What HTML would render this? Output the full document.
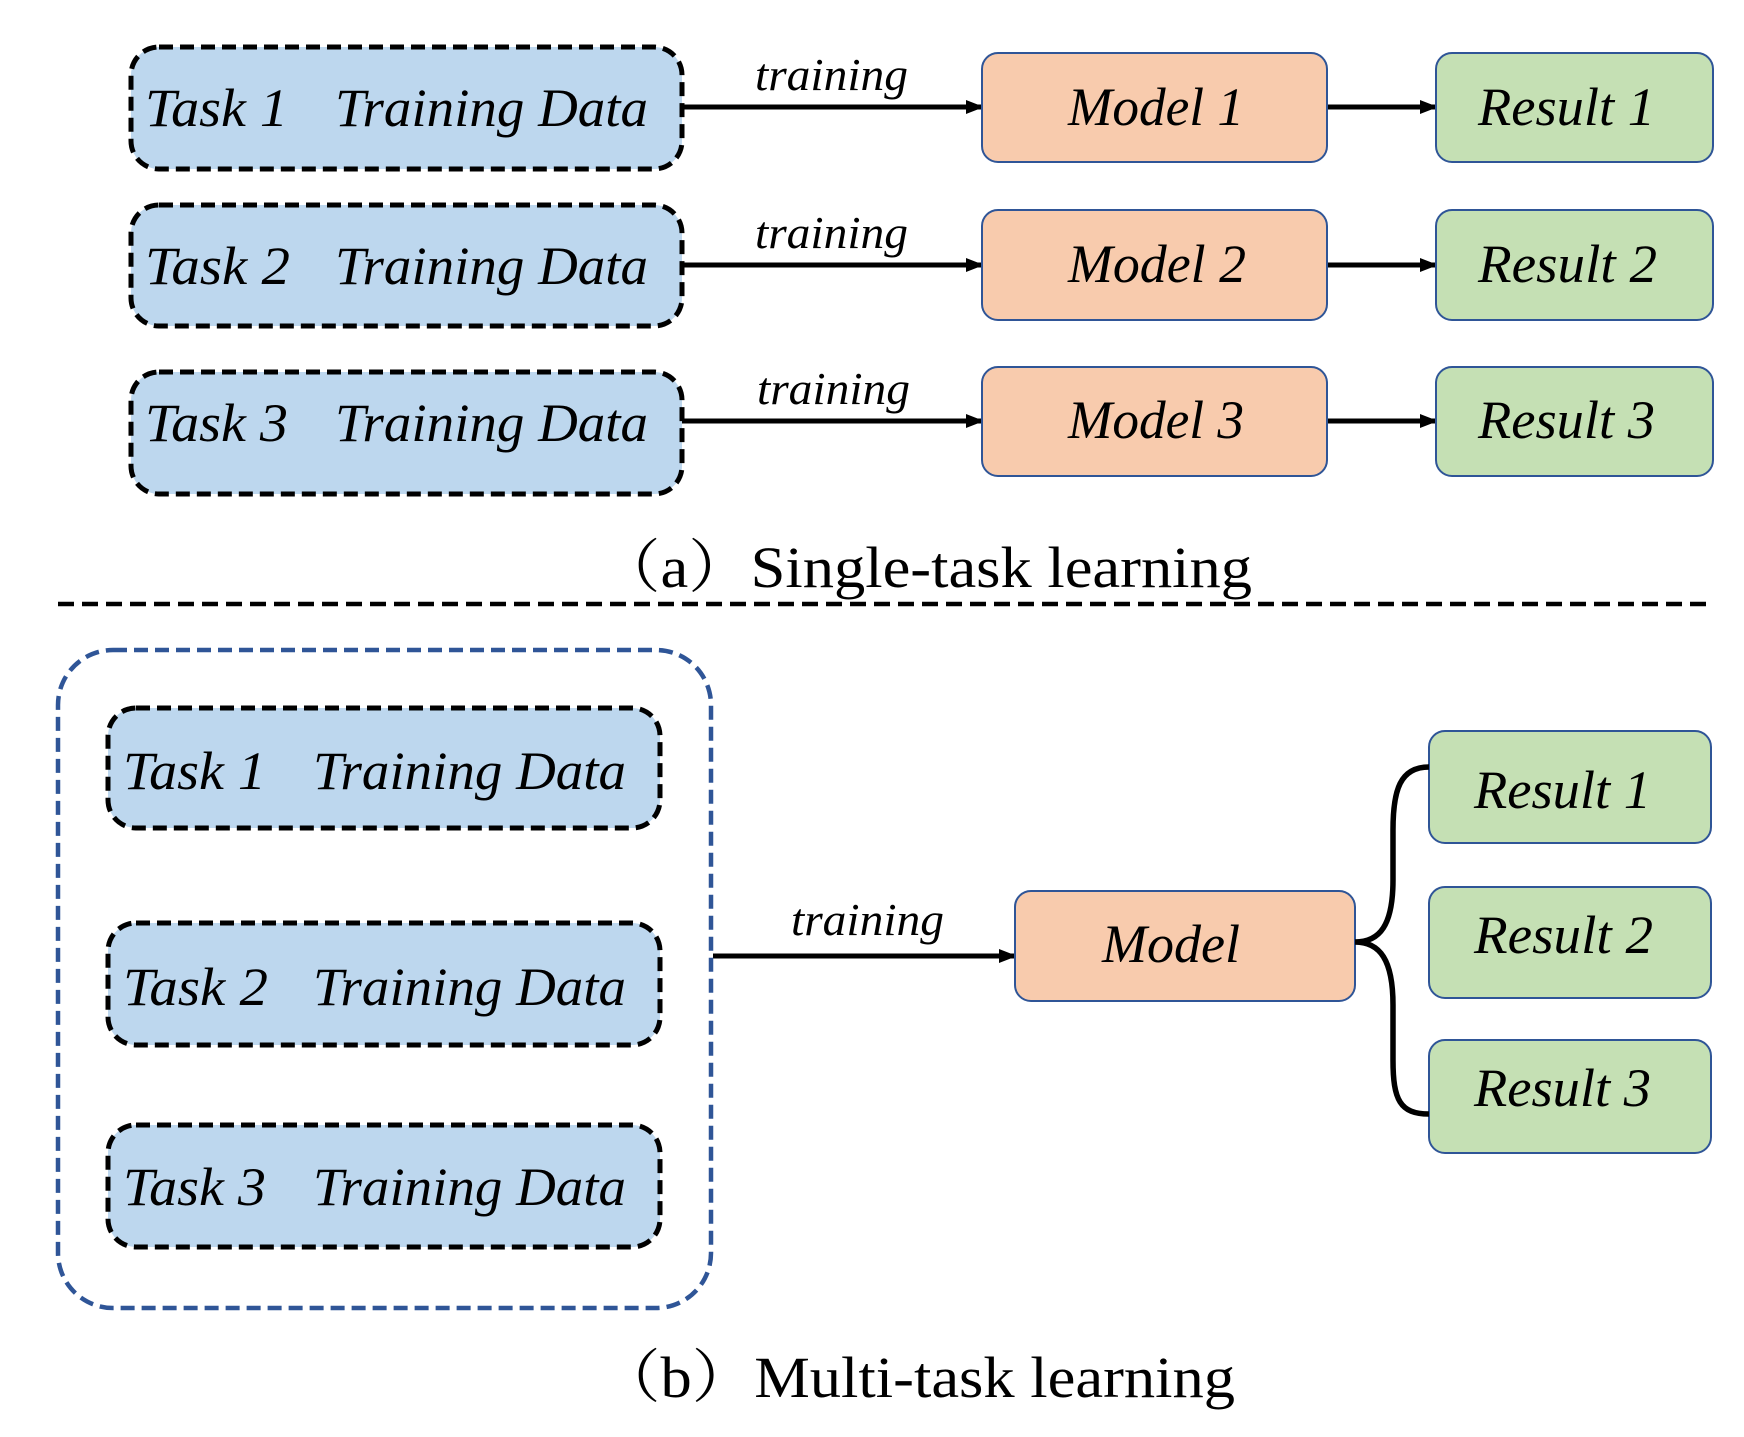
<!DOCTYPE html>
<html><head><meta charset="utf-8"><style>html,body{margin:0;padding:0;background:#fff}svg{display:block}</style></head>
<body>
<svg width="1744" height="1437" viewBox="0 0 1744 1437" xmlns="http://www.w3.org/2000/svg">
<defs>
<marker id="ah" markerWidth="18" markerHeight="14" refX="16" refY="7" orient="auto" markerUnits="userSpaceOnUse" viewBox="0 0 18 14">
<path d="M0,0 L18,7 L0,14 z" fill="#000"/></marker>
</defs>
<g font-family="'Liberation Serif', serif" font-style="italic" fill="#000">
<g stroke="#000" stroke-width="5" stroke-dasharray="14,7" fill="#bdd7ee">
<rect x="131" y="47" width="551" height="122" rx="28"/>
<rect x="131" y="205" width="551" height="121" rx="28"/>
<rect x="131" y="372" width="551" height="122" rx="28"/>
</g>
<g font-size="54">
<text x="145" y="126" textLength="143" lengthAdjust="spacingAndGlyphs">Task 1</text>
<text x="335" y="126" textLength="313" lengthAdjust="spacingAndGlyphs">Training Data</text>
<text x="145" y="284" textLength="145" lengthAdjust="spacingAndGlyphs">Task 2</text>
<text x="335" y="284" textLength="313" lengthAdjust="spacingAndGlyphs">Training Data</text>
<text x="145" y="441" textLength="143" lengthAdjust="spacingAndGlyphs">Task 3</text>
<text x="335" y="441" textLength="313" lengthAdjust="spacingAndGlyphs">Training Data</text>
</g>
<g stroke="#000" stroke-width="5" marker-end="url(#ah)">
<line x1="682" y1="107" x2="982" y2="107"/>
<line x1="682" y1="265" x2="982" y2="265"/>
<line x1="682" y1="421" x2="982" y2="421"/>
<line x1="1327" y1="107" x2="1436" y2="107"/>
<line x1="1327" y1="265" x2="1436" y2="265"/>
<line x1="1327" y1="421" x2="1436" y2="421"/>
<line x1="713" y1="956" x2="1015" y2="956"/>
</g>
<g font-size="46">
<text x="755" y="90" textLength="153" lengthAdjust="spacingAndGlyphs">training</text>
<text x="755" y="248" textLength="153" lengthAdjust="spacingAndGlyphs">training</text>
<text x="757" y="404" textLength="153" lengthAdjust="spacingAndGlyphs">training</text>
<text x="791" y="935" textLength="153" lengthAdjust="spacingAndGlyphs">training</text>
</g>
<g stroke="#2f5597" stroke-width="2" fill="#f8cbad">
<rect x="982" y="53" width="345" height="109" rx="16"/>
<rect x="982" y="210" width="345" height="110" rx="16"/>
<rect x="982" y="367" width="345" height="109" rx="16"/>
<rect x="1015" y="891" width="340" height="110" rx="16"/>
</g>
<g fill="#c5e0b4" stroke="#2f5597" stroke-width="2">
<rect x="1436" y="53" width="277" height="109" rx="16"/>
<rect x="1436" y="210" width="277" height="110" rx="16"/>
<rect x="1436" y="367" width="277" height="109" rx="16"/>
<rect x="1429" y="731" width="282" height="112" rx="16"/>
<rect x="1429" y="887" width="282" height="111" rx="16"/>
<rect x="1429" y="1040" width="282" height="113" rx="16"/>
</g>
<g font-size="54">
<text x="1068" y="125" textLength="176" lengthAdjust="spacingAndGlyphs">Model 1</text>
<text x="1068" y="282" textLength="178" lengthAdjust="spacingAndGlyphs">Model 2</text>
<text x="1068" y="438" textLength="176" lengthAdjust="spacingAndGlyphs">Model 3</text>
<text x="1102" y="962" textLength="138" lengthAdjust="spacingAndGlyphs">Model</text>
<text x="1478" y="125" textLength="177" lengthAdjust="spacingAndGlyphs">Result 1</text>
<text x="1478" y="282" textLength="179" lengthAdjust="spacingAndGlyphs">Result 2</text>
<text x="1478" y="438" textLength="177" lengthAdjust="spacingAndGlyphs">Result 3</text>
<text x="1474" y="808" textLength="177" lengthAdjust="spacingAndGlyphs">Result 1</text>
<text x="1474" y="953" textLength="179" lengthAdjust="spacingAndGlyphs">Result 2</text>
<text x="1474" y="1106" textLength="177" lengthAdjust="spacingAndGlyphs">Result 3</text>
</g>
<line x1="58" y1="604" x2="1713" y2="604" stroke="#000" stroke-width="4.5" stroke-dasharray="16,8"/>
<rect x="58" y="650" width="653" height="658" rx="55" fill="none" stroke="#2f5597" stroke-width="4.5" stroke-dasharray="14,7"/>
<g stroke="#000" stroke-width="5" stroke-dasharray="14,7" fill="#bdd7ee">
<rect x="108" y="708" width="552" height="120" rx="28"/>
<rect x="108" y="923" width="552" height="122" rx="28"/>
<rect x="108" y="1125" width="552" height="122" rx="28"/>
</g>
<g font-size="54">
<text x="123" y="789" textLength="143" lengthAdjust="spacingAndGlyphs">Task 1</text>
<text x="313" y="789" textLength="313" lengthAdjust="spacingAndGlyphs">Training Data</text>
<text x="123" y="1005" textLength="145" lengthAdjust="spacingAndGlyphs">Task 2</text>
<text x="313" y="1005" textLength="313" lengthAdjust="spacingAndGlyphs">Training Data</text>
<text x="123" y="1205" textLength="143" lengthAdjust="spacingAndGlyphs">Task 3</text>
<text x="313" y="1205" textLength="313" lengthAdjust="spacingAndGlyphs">Training Data</text>
</g>
<path d="M1429,767 C1400,767 1393,790 1393,830 L1393,880 C1393,925 1380,942 1355,942 C1380,942 1393,960 1393,1005 L1393,1060 C1393,1100 1400,1114 1429,1114" fill="none" stroke="#000" stroke-width="5.5"/>
</g>
<g font-family="'Liberation Serif', 'Noto Serif CJK SC', serif" font-size="58" fill="#000">
<text x="598" y="587" textLength="654" lengthAdjust="spacingAndGlyphs">（a）Single-task learning</text>
<text x="598" y="1397" textLength="637" lengthAdjust="spacingAndGlyphs">（b）Multi-task learning</text>
</g>
</svg>
</body></html>
